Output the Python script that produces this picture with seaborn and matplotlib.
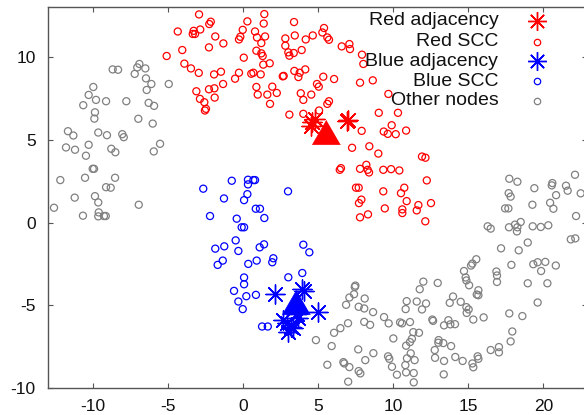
import matplotlib
matplotlib.use("Agg")
import matplotlib.pyplot as plt
import seaborn as sns
import numpy as np

# ---------------- data ----------------
other_x = [-6.93, -7.07, -6.53, -8.71, -8.35, -7.24, -6.49, -6.13, -4.97, -10.0, -6.44, -10.31, -9.82, -9.15, -7.8,
           -10.67, -6.31, -5.95, -9.89, -9.93, -7.0, -6.04, -11.69, -11.33, -9.67, -9.09, -8.07, -7.97, -5.55, -11.82,
           -11.22, -10.31, -8.8, -8.53, -10.49, -5.97, -10.04, -9.95, -12.2, -10.55, -8.55, -9.15, -8.84, -11.24, -9.89,
           -9.67, -12.62, -10.69, -9.64, -9.67, -9.29, -9.17, -6.97,
           4.84, 17.73, 18.27, 22.11, 20.6, 20.56, 21.51, 21.62, 19.4, 20.85, 22.49, 17.69, 17.82, 19.27, 20.45, 20.67,
           17.45, 17.67, 22.18, 16.29, 16.49, 17.71, 18.11, 18.27, 18.49, 18.24, 19.29, 19.83, 20.33, 18.96, 21.83,
           22.13, 17.18, 18.36, 15.53, 15.27, 15.18, 14.71, 14.82, 14.87, 15.05, 16.87, 16.91, 16.91, 17.87, 19.33,
           19.62, 20.13, 19.85, 20.83, 18.96, 20.27, 19.62, 12.0, 12.96, 7.47, 7.43, 11.76, 12.18, 11.91, 13.98, 13.76,
           14.49, 15.02, 14.89, 15.33, 15.56, 15.67, 15.67, 16.02, 17.73, 18.6, 17.93, 17.82, 16.49, 17.04, 17.04,
           15.62, 15.67, 15.27, 15.33, 14.62, 14.13, 13.38, 12.76, 12.78, 13.02, 13.0, 13.33, 13.85, 13.36, 12.6,
           12.65, 13.38, 13.67, 13.8, 14.11, 14.87, 7.07, 7.38, 6.85, 7.69, 8.09, 8.06, 8.65, 8.06, 8.45, 6.98, 6.47,
           6.05, 5.89, 5.6, 6.67, 6.73, 7.07, 7.66, 8.13, 8.67, 7.69, 7.8, 6.99, 9.38, 9.69, 10.0, 9.65, 9.73, 9.91,
           10.24, 10.85, 10.8, 11.36, 11.36, 10.91, 11.42, 11.16, 10.85, 11.11, 11.24, 11.33, 11.71, 10.45, 10.58,
           11.11, 10.89, 10.82, 11.56]
other_y = [9.58, 9.37, 9.31, 9.25, 9.23, 8.98, 8.71, 8.37, 8.37, 8.19, 8.01, 7.71, 7.41, 7.33, 7.33,
           7.09, 7.23, 7.05, 6.66, 6.28, 6.27, 5.98, 5.52, 5.26, 5.44, 5.28, 5.34, 5.16, 4.76, 4.54,
           4.4, 4.7, 4.46, 4.25, 4.04, 4.3, 3.25, 3.25, 2.57, 2.71, 2.71, 2.14, 2.11, 1.51, 1.6,
           1.22, 0.9, 0.42, 0.62, 0.38, 0.4, 0.4, 1.08,
           -7.09, 2.65, 2.47, 2.89, 2.39, 2.25, 2.23, 1.93, 2.08, 1.66, 1.77, 1.78, 1.57, 1.08, 1.2, 0.84,
           0.86, 0.86, 0.4, -0.22, -0.36, -0.28, -0.12, -0.28, 0.04, -0.53, -0.22, -0.26, -0.16, -1.2, -1.01,
           -0.95, -1.55, -1.67, -2.21, -2.47, -2.59, -2.92, -3.31, -3.49, -3.78, -2.95, -3.19, -3.58, -2.55, -2.51,
           -2.39, -2.37, -2.92, -2.59, -3.66, -3.66, -4.82, -3.56, -3.64, -3.8, -3.88, -4.02, -4.88, -5.24, -4.46, -4.84,
           -4.78, -5.24, -5.45, -5.85, -4.34, -4.08, -4.38, -5.72, -5.48, -5.64, -6.57, -7.17, -7.69, -7.51, -7.83,
           -8.07, -8.22, -8.5, -8.73, -8.35, -8.11, -8.35, -7.69, -8.16, -7.09, -7.25, -7.27, -7.45, -9.16, -5.85,
           -5.93, -6.2, -5.89, -6.14, -6.13, -5.1, -4.52, -4.32, -4.96, -5.08, -4.58, -5.18, -5.4, -5.99, -6.17, -6.07, -6.37,
           -6.65, -7.45, -8.58, -8.42, -8.5, -8.72, -7.65, -8.3, -7.88, -8.96, -9.1, -9.6, -5.7, -6.08, -6.99, -8.07, -8.22, -8.7,
           -9.18, -9.04, -8.6, -9.08, -9.64, -8.19, -8.3, -7.89, -7.43, -7.21, -7.01, -6.61, -6.65, -6.02, -6.08,
           -6.0, -4.74, -5.22, -4.76]

red_x = [-2.95, 1.4, -2.17, -2.27, 0.27, 1.36, 3.38, -4.37, -3.31, -3.37, -3.22, -2.87, -1.87, -0.04, -0.2, -0.29,
         0.78, 0.91, 1.45, 1.2, 2.8, 3.43, 4.16, 4.63, 2.8, -2.29, -1.33, -4.07, 0.87, 1.2, 1.29, 3.0, 3.07, 3.36,
         3.89, -5.11, 0.03, -3.93, -3.49, -2.97, -1.95, -1.49, -0.29, 0.53, 0.67, 1.16, 1.33, 1.76, 2.63, 2.69, 3.4,
         3.67, 3.76, 4.13, -0.55, -1.35, -1.93, -2.29, 0.87, 1.93, -3.13, -2.89, -2.6, -1.91, 0.96, 1.6, 2.23, 1.78,
         3.83, 4.0, 4.53, 4.91, 5.03, -2.49, -2.56, 3.07, 4.0,
         5.38, 5.27, 5.6, 5.71, 6.56, 7.07, 7.11, 7.91, 8.0, 5.33, 6.05, 7.78, 8.63, 9.67, 9.03, 10.31, 5.05, 5.71,
         5.6, 9.89, 9.36, 9.63, 10.16, 10.85, 7.89, 7.25, 8.4, 9.0, 11.91, 12.14, 6.51, 6.43, 8.2, 8.29, 8.38, 7.78,
         9.33, 9.85, 10.4, 12.23, 7.51, 7.69, 10.73, 9.33, 10.51,
         7.71, 7.87, 10.89, 12.51, 11.67, 11.56, 9.43, 10.6, 10.6, 8.31, 7.78, 12.13]
red_y = [12.57, 12.59, 12.13, 11.99, 12.15, 12.02, 12.11, 11.54, 11.58, 11.39, 11.39, 11.66, 11.24, 11.64, 11.22, 11.06,
         11.54, 11.18, 11.24, 10.84, 11.12, 11.3, 11.06, 11.3, 10.68, 10.58, 10.82, 10.42, 10.38, 10.22, 10.06, 10.28, 10.08, 10.24,
         10.42, 10.06, 9.96, 9.6, 9.31, 9.04, 8.95, 9.11, 9.05, 8.99, 9.05, 8.95, 9.54, 9.62, 8.83, 8.86, 9.16,
         8.79, 9.05, 9.25, 8.69, 8.37, 8.11, 8.05, 8.19, 8.21, 7.93, 7.47, 7.27, 7.55, 7.73, 7.73, 7.83, 7.17,
         7.81, 7.41, 7.73, 8.37, 8.21, 6.87, 6.77, 6.52, 6.57,
         11.75, 11.48, 11.18, 11.04, 10.64, 10.78, 10.48, 10.14, 9.58, 8.81, 8.67, 8.45, 8.59, 7.77, 6.63, 6.63, 6.77, 7.33,
         7.17, 5.88, 5.5, 5.36, 5.34, 5.56, 5.54, 4.52, 4.61, 4.17, 3.99, 3.92, 3.29, 3.19, 3.49, 3.19, 3.03, 3.25,
         3.19, 3.23, 3.15, 2.55, 2.11, 2.11, 2.11, 1.89, 1.78,
         1.18, 1.39, 1.3, 1.18, 1.06, 0.74, 0.86, 0.8, 0.58, 0.5, 0.32, 0.08]

blue_x = [-2.67, -0.77, 0.31, 0.67, 0.78, 0.31, 0.27, -1.29, 0.05, 2.98, -2.22, -0.44, 0.83, 1.11, 1.4, -0.11, 0.05,
          -0.51, -1.27, -1.87, -0.33, 1.09, 1.38, -1.37, -1.71, 0.33, 0.89, 2.0, 1.93, 4.0, 4.4, 0.05, 0.05, 3.0,
          3.93, -0.62, 0.2, 0.84, -0.33, -0.04, 1.25, 1.63]
blue_y = [2.05, 2.53, 2.59, 2.57, 2.57, 2.31, 1.72, 1.46, 1.36, 1.89, 0.4, 0.24, 0.84, 0.84, 0.28, -0.28, -0.28,
          -1.07, -1.43, -1.57, -1.71, -1.49, -1.31, -2.29, -2.55, -2.49, -2.29, -2.15, -2.39, -1.33, -1.79, -3.31, -3.72, -3.3,
          -3.04, -4.12, -4.44, -4.36, -4.76, -5.22, -6.27, -6.27]

red_adj_x = [4.6, 4.8, 4.5, 6.89, 6.95]
red_adj_y = [6.1, 6.25, 5.85, 6.12, 6.2]
blue_adj_x = [2.11, 3.93, 4.05, 4.96, 2.89, 3.0, 3.33, 3.67, 2.67, 3.2, 3.6]
blue_adj_y = [-4.32, -3.98, -4.15, -5.42, -6.08, -6.59, -6.39, -5.78, -5.89, -6.3, -5.5]

red_centre_x = [5.51]
red_centre_y = [5.24]
blue_centre_x = [3.53]
blue_centre_y = [-5.02]

legend_labels = ["Red adjacency", "Red SCC", "Blue adjacency", "Blue SCC", "Other nodes"]

# ---------------- style ----------------
sns.set_theme(style="ticks")
plt.rcParams["font.family"] = ["Liberation Sans", "DejaVu Sans"]
plt.rcParams["axes.unicode_minus"] = False

RED = "#ff0000"
BLUE = "#0000ff"
GRAY = "#808080"
AX = "#555555"

fig = plt.figure(figsize=(5.84, 4.15), dpi=100)
ax = fig.add_axes([48.3 / 584, (415 - 388.3) / 415, (587 - 48.3) / 584, (388.3 - 7.3) / 415])

star = (8, 2, 0)
tri = [(0.0, 1.0), (-0.866, -0.5), (0.866, -0.5)]
circ_s = 26
circ_lw = 0.9

sns.scatterplot(x=other_x, y=other_y, ax=ax, marker="o", s=circ_s, facecolors="none",
                edgecolors=GRAY, linewidth=circ_lw, legend=False)
sns.scatterplot(x=red_x, y=red_y, ax=ax, marker="o", s=circ_s, facecolors="none",
                edgecolors=RED, linewidth=circ_lw, legend=False)
sns.scatterplot(x=blue_x, y=blue_y, ax=ax, marker="o", s=circ_s, facecolors="none",
                edgecolors=BLUE, linewidth=circ_lw, legend=False)
sns.scatterplot(x=red_adj_x, y=red_adj_y, ax=ax, marker=star, s=190, color=RED,
                linewidth=1.0, legend=False)
sns.scatterplot(x=blue_adj_x, y=blue_adj_y, ax=ax, marker=star, s=190, color=BLUE,
                linewidth=1.0, legend=False)
sns.scatterplot(x=red_centre_x, y=red_centre_y, ax=ax, marker=tri, s=540, color=RED,
                edgecolor=RED, linewidth=0.5, legend=False)
sns.scatterplot(x=blue_centre_x, y=blue_centre_y, ax=ax, marker=tri, s=540, color=BLUE,
                edgecolor=BLUE, linewidth=0.5, legend=False)

ax.set_xlim(-13, 22.91)
ax.set_ylim(-10, 13)
ax.set_xticks([-10, -5, 0, 5, 10, 15, 20])
ax.set_yticks([-10, -5, 0, 5, 10])
ax.tick_params(direction="in", top=True, right=True, length=3.6, width=0.8,
               color=AX, labelsize=12.5, labelcolor="#111111")
ax.tick_params(axis="x", pad=8)
ax.tick_params(axis="y", pad=9)
for sp in ax.spines.values():
    sp.set_visible(True)
    sp.set_color(AX)
    sp.set_linewidth(1.0)
ax.set_xlabel("")
ax.set_ylabel("")

# ---------------- key (gnuplot style, right-aligned text) ----------------
ax_w = 587 - 48.3
text_x = (498.3 - 48.3) / ax_w
mark_x = (537.0 - 48.3) / ax_w
rows_y = [0.965, 0.910, 0.859, 0.806, 0.755]
key_styles = [
    dict(marker=star, markersize=13.5, color=RED, mew=1.0, linestyle="none"),
    dict(marker="o", markersize=4.6, mfc="none", mec=RED, mew=circ_lw, linestyle="none"),
    dict(marker=star, markersize=13.5, color=BLUE, mew=1.0, linestyle="none"),
    dict(marker="o", markersize=4.6, mfc="none", mec=BLUE, mew=circ_lw, linestyle="none"),
    dict(marker="o", markersize=4.6, mfc="none", mec=GRAY, mew=circ_lw, linestyle="none"),
]
for lab, yy, st in zip(legend_labels, rows_y, key_styles):
    ax.text(text_x, yy, lab, transform=ax.transAxes, ha="right", va="center",
            fontsize=14, color="#111111")
    ax.plot([mark_x], [yy], transform=ax.transAxes, clip_on=False, **st)

fig.savefig("out.png", dpi=100)
